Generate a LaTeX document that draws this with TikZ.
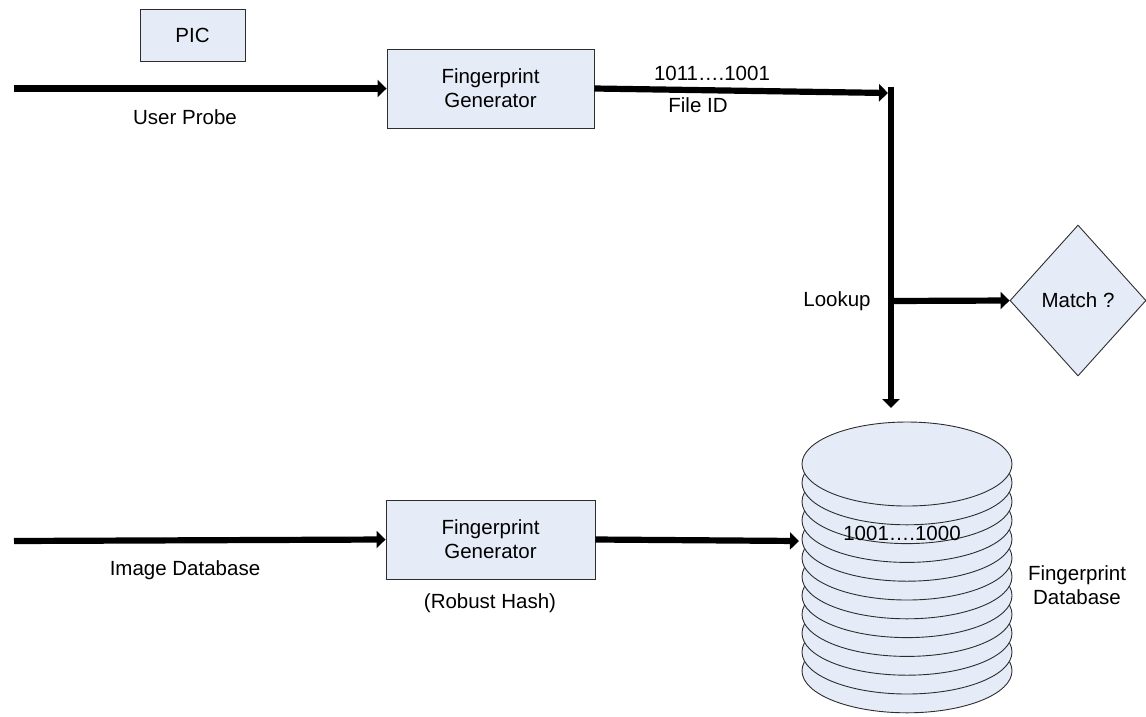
\documentclass[tikz,border=0pt]{standalone}
\usepackage{fontspec}
\setmainfont{Liberation Sans}
\usetikzlibrary{arrows.meta,shapes.geometric}
\definecolor{boxfill}{RGB}{230,236,247}
\definecolor{edge}{RGB}{45,45,45}
\begin{document}
\begin{tikzpicture}[x=1pt,y=-1pt,
  every node/.style={font=\fontsize{20.5}{24}\selectfont, inner sep=0pt},
  box/.style={draw=edge, fill=boxfill, line width=0.9pt, align=center},
  decision/.style={diamond, draw=edge, fill=boxfill, line width=0.9pt,
    minimum width=136pt, minimum height=151pt},
  disk/.style={draw=edge, fill=boxfill, line width=0.9pt},
  flow/.style={line width=6.2pt, -{Triangle[length=9pt,width=17pt]}},
  lbl/.style={align=center}]
\useasboundingbox (0,0) rectangle (1146,716);

% boxes
\node[box, minimum width=105pt, minimum height=52pt] (pic) at (192.5,35) {PIC};
\node[box, minimum width=207pt, minimum height=79pt] (fg1) at (490.5,88.5) {Fingerprint\\Generator};
\node[box, minimum width=209pt, minimum height=79pt] (fg2) at (490.5,539.5) {Fingerprint\\Generator};
\node[decision] (match) at (1078,300.5) {Match ?};

% stacked disks of the fingerprint database, drawn bottom first
\foreach \i in {11,10,...,0}{
  \draw[disk] (907,{464+18.8*\i}) ellipse [x radius=105pt, y radius=42pt];
}
\node (dbval) at (902,533) {1001….1000};
\node[lbl] (dblabel) at (1077,585) {Fingerprint\\Database};

% free connector ends
\coordinate (probe) at (14,88.5);
\coordinate (imgsrc) at (14,541);
\coordinate (jin) at (888,93);
\coordinate (jtop) at (891,87);
\coordinate (jmid) at (891,301);
\coordinate (dbtop) at (891,408);
\coordinate (dbleft) at (799,541);

% connectors
\draw[flow] (probe) -- (fg1.west);
\draw[flow] (fg1.east) -- (jin);
\draw[flow] (jtop) -- (dbtop);
\draw[flow] (jmid) -- (match.west);
\draw[flow] (imgsrc) -- (fg2.west);
\draw[flow] (fg2.east) -- (dbleft);

% labels
\node (up) at (185,117) {User Probe};
\node (bits) at (712,73) {1011….1001};
\node (fid) at (698,105) {File ID};
\node (look) at (837,301) {Lookup};
\node (imgdb) at (185,570) {Image Database};
\node (hash) at (490,603) {(Robust Hash)};
\end{tikzpicture}
\end{document}
